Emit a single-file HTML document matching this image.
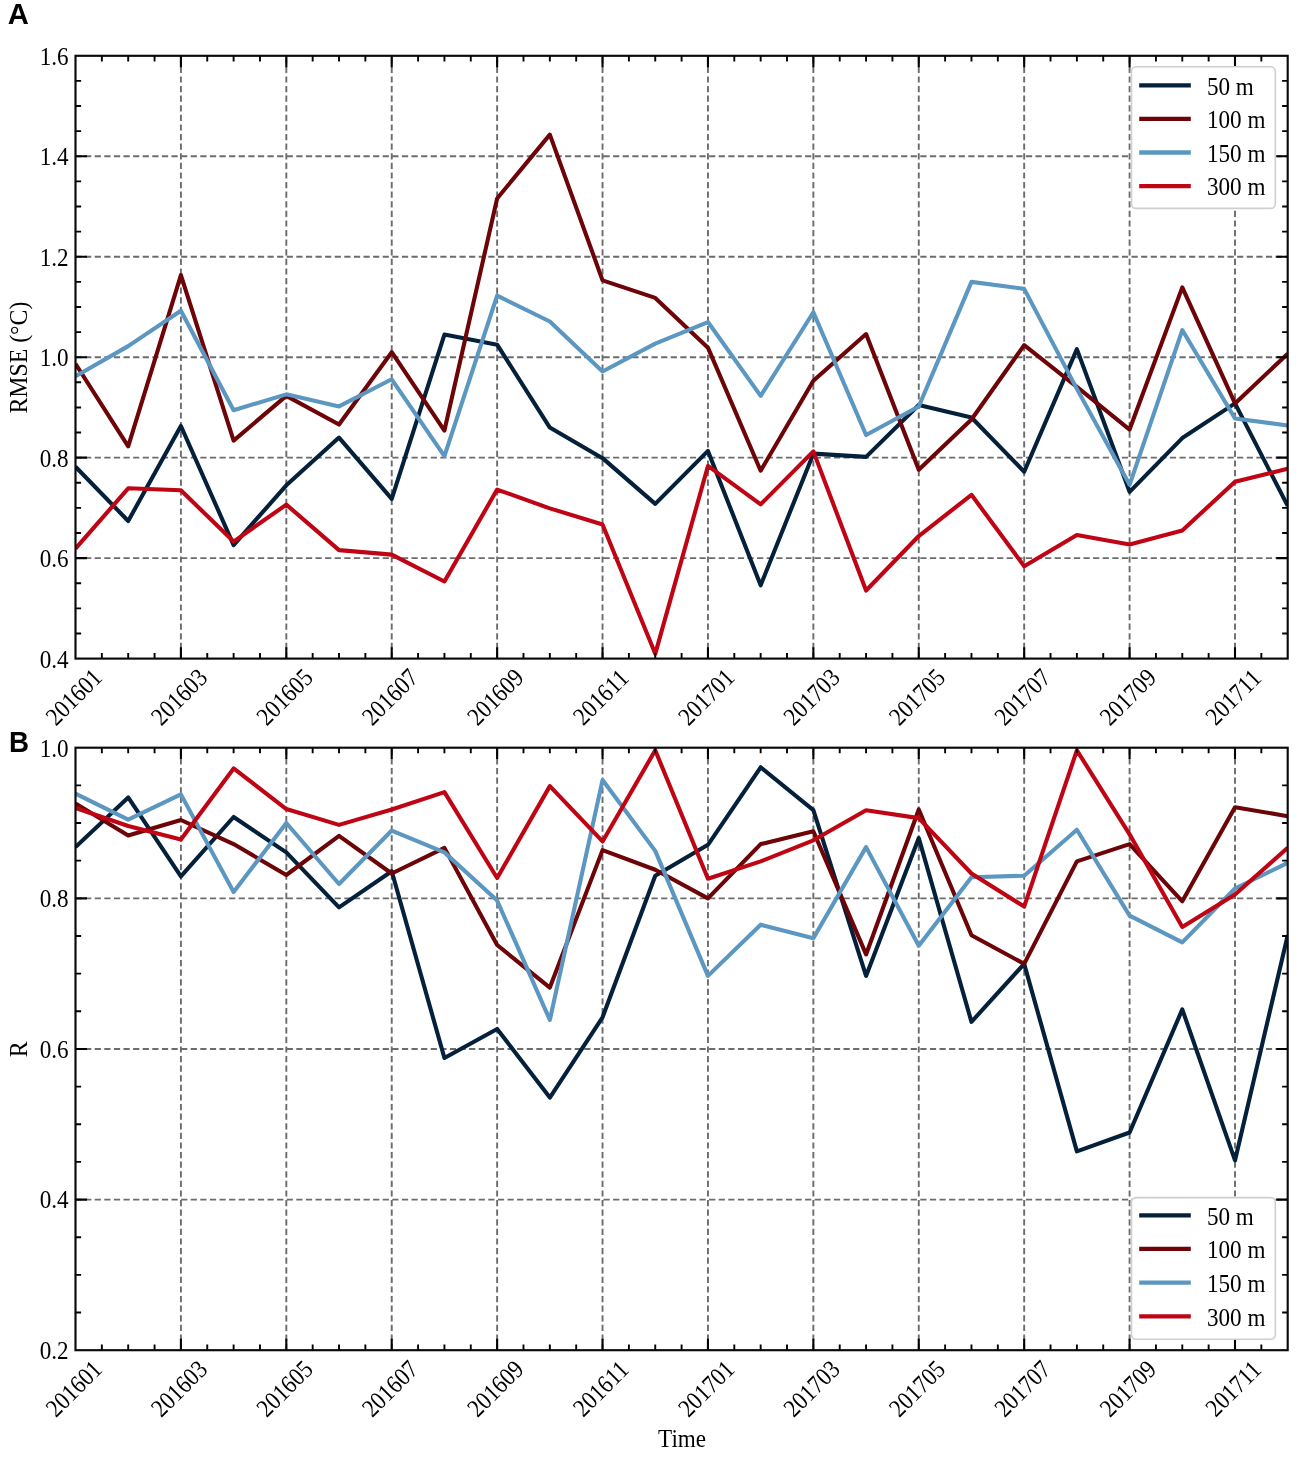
<!DOCTYPE html>
<html><head><meta charset="utf-8"><title>Figure</title>
<style>html,body{margin:0;padding:0;background:#fff}body{width:1299px;height:1457px;overflow:hidden;font-family:"Liberation Serif",serif}svg{display:block;filter:blur(0.75px)}</style>
</head><body>
<svg width="1299" height="1457" viewBox="0 0 1299 1457" font-family="'Liberation Serif', serif" font-size="23.5" fill="#000">
<path d="M180.91 658.60V55.80M286.32 658.60V55.80M391.73 658.60V55.80M497.13 658.60V55.80M602.54 658.60V55.80M707.95 658.60V55.80M813.36 658.60V55.80M918.77 658.60V55.80M1024.18 658.60V55.80M1129.59 658.60V55.80M1235.00 658.60V55.80M75.50 558.13H1287.70M75.50 457.67H1287.70M75.50 357.20H1287.70M75.50 256.73H1287.70M75.50 156.27H1287.70" stroke="#6c6c6c" stroke-width="1.9" stroke-dasharray="6.2 3.4" fill="none"/>
<clipPath id="clipA"><rect x="75.5" y="55.8" width="1212.2" height="602.8000000000001"/></clipPath>
<g clip-path="url(#clipA)" fill="none" stroke-width="4.1" stroke-linejoin="round" stroke-linecap="butt">
<polyline points="75.50,466.71 128.20,520.96 180.91,426.02 233.61,545.07 286.32,485.30 339.02,437.57 391.73,498.86 444.43,334.60 497.13,344.64 549.84,427.53 602.54,458.17 655.25,503.88 707.95,450.89 760.66,585.26 813.36,453.65 866.07,456.91 918.77,404.92 971.47,417.48 1024.18,471.73 1076.88,349.16 1129.59,491.83 1182.29,438.08 1235.00,403.41 1287.70,505.89" stroke="#04203a"/>
<polyline points="75.50,363.73 128.20,446.36 180.91,275.07 233.61,440.59 286.32,395.88 339.02,424.51 391.73,352.18 444.43,430.54 497.13,198.46 549.84,134.67 602.54,280.34 655.25,297.92 707.95,347.66 760.66,470.73 813.36,380.81 866.07,334.09 918.77,469.72 971.47,419.49 1024.18,345.14 1076.88,386.84 1129.59,429.54 1182.29,287.38 1235.00,403.41 1287.70,353.68" stroke="#6d0407"/>
<polyline points="75.50,376.29 128.20,346.15 180.91,310.73 233.61,410.20 286.32,394.37 339.02,406.43 391.73,379.30 444.43,456.16 497.13,295.66 549.84,321.53 602.54,371.52 655.25,343.64 707.95,322.04 760.66,395.88 813.36,312.24 866.07,435.06 918.77,406.43 971.47,281.85 1024.18,288.88 1076.88,388.85 1129.59,484.79 1182.29,330.07 1235.00,418.48 1287.70,425.52" stroke="#5b97c0"/>
<polyline points="75.50,548.59 128.20,488.31 180.91,490.32 233.61,541.56 286.32,504.63 339.02,550.10 391.73,554.62 444.43,581.49 497.13,489.56 549.84,508.40 602.54,524.48 655.25,653.83 707.95,465.96 760.66,504.38 813.36,451.39 866.07,590.53 918.77,536.03 971.47,494.84 1024.18,566.17 1076.88,535.03 1129.59,544.57 1182.29,530.50 1235.00,481.78 1287.70,468.72" stroke="#bf0414"/>
</g>
<path d="M180.91 658.60v-11.4M180.91 55.80v11.4M286.32 658.60v-11.4M286.32 55.80v11.4M391.73 658.60v-11.4M391.73 55.80v11.4M497.13 658.60v-11.4M497.13 55.80v11.4M602.54 658.60v-11.4M602.54 55.80v11.4M707.95 658.60v-11.4M707.95 55.80v11.4M813.36 658.60v-11.4M813.36 55.80v11.4M918.77 658.60v-11.4M918.77 55.80v11.4M1024.18 658.60v-11.4M1024.18 55.80v11.4M1129.59 658.60v-11.4M1129.59 55.80v11.4M1235.00 658.60v-11.4M1235.00 55.80v11.4M75.50 558.13h11.4M1287.70 558.13h-11.4M75.50 457.67h11.4M1287.70 457.67h-11.4M75.50 357.20h11.4M1287.70 357.20h-11.4M75.50 256.73h11.4M1287.70 256.73h-11.4M75.50 156.27h11.4M1287.70 156.27h-11.4" stroke="#000" stroke-width="2.1" fill="none"/>
<path d="M101.85 658.60v-5.6M101.85 55.80v5.6M128.20 658.60v-5.6M128.20 55.80v5.6M154.56 658.60v-5.6M154.56 55.80v5.6M207.26 658.60v-5.6M207.26 55.80v5.6M233.61 658.60v-5.6M233.61 55.80v5.6M259.97 658.60v-5.6M259.97 55.80v5.6M312.67 658.60v-5.6M312.67 55.80v5.6M339.02 658.60v-5.6M339.02 55.80v5.6M365.37 658.60v-5.6M365.37 55.80v5.6M418.08 658.60v-5.6M418.08 55.80v5.6M444.43 658.60v-5.6M444.43 55.80v5.6M470.78 658.60v-5.6M470.78 55.80v5.6M523.49 658.60v-5.6M523.49 55.80v5.6M549.84 658.60v-5.6M549.84 55.80v5.6M576.19 658.60v-5.6M576.19 55.80v5.6M628.90 658.60v-5.6M628.90 55.80v5.6M655.25 658.60v-5.6M655.25 55.80v5.6M681.60 658.60v-5.6M681.60 55.80v5.6M734.30 658.60v-5.6M734.30 55.80v5.6M760.66 658.60v-5.6M760.66 55.80v5.6M787.01 658.60v-5.6M787.01 55.80v5.6M839.71 658.60v-5.6M839.71 55.80v5.6M866.07 658.60v-5.6M866.07 55.80v5.6M892.42 658.60v-5.6M892.42 55.80v5.6M945.12 658.60v-5.6M945.12 55.80v5.6M971.47 658.60v-5.6M971.47 55.80v5.6M997.83 658.60v-5.6M997.83 55.80v5.6M1050.53 658.60v-5.6M1050.53 55.80v5.6M1076.88 658.60v-5.6M1076.88 55.80v5.6M1103.23 658.60v-5.6M1103.23 55.80v5.6M1155.94 658.60v-5.6M1155.94 55.80v5.6M1182.29 658.60v-5.6M1182.29 55.80v5.6M1208.64 658.60v-5.6M1208.64 55.80v5.6M1261.35 658.60v-5.6M1261.35 55.80v5.6M75.50 633.48h5.6M1287.70 633.48h-5.6M75.50 608.37h5.6M1287.70 608.37h-5.6M75.50 583.25h5.6M1287.70 583.25h-5.6M75.50 533.02h5.6M1287.70 533.02h-5.6M75.50 507.90h5.6M1287.70 507.90h-5.6M75.50 482.78h5.6M1287.70 482.78h-5.6M75.50 432.55h5.6M1287.70 432.55h-5.6M75.50 407.43h5.6M1287.70 407.43h-5.6M75.50 382.32h5.6M1287.70 382.32h-5.6M75.50 332.08h5.6M1287.70 332.08h-5.6M75.50 306.97h5.6M1287.70 306.97h-5.6M75.50 281.85h5.6M1287.70 281.85h-5.6M75.50 231.62h5.6M1287.70 231.62h-5.6M75.50 206.50h5.6M1287.70 206.50h-5.6M75.50 181.38h5.6M1287.70 181.38h-5.6M75.50 131.15h5.6M1287.70 131.15h-5.6M75.50 106.03h5.6M1287.70 106.03h-5.6M75.50 80.92h5.6M1287.70 80.92h-5.6" stroke="#000" stroke-width="1.9" fill="none"/>
<rect x="75.5" y="55.8" width="1212.20" height="602.80" fill="none" stroke="#0a0a0a" stroke-width="2.15"/>
<rect x="1131.5" y="66.8" width="143.8" height="141.6" rx="4.5" fill="#fff" stroke="#cfcfcf" stroke-width="1.6"/>
<path d="M1139.2 85.40H1190.8" stroke="#04203a" stroke-width="4.3"/>
<path d="M1139.2 118.95H1190.8" stroke="#6d0407" stroke-width="4.3"/>
<path d="M1139.2 152.50H1190.8" stroke="#5b97c0" stroke-width="4.3"/>
<path d="M1139.2 186.05H1190.8" stroke="#bf0414" stroke-width="4.3"/>
<path d="M180.91 1350.20V747.70M286.32 1350.20V747.70M391.73 1350.20V747.70M497.13 1350.20V747.70M602.54 1350.20V747.70M707.95 1350.20V747.70M813.36 1350.20V747.70M918.77 1350.20V747.70M1024.18 1350.20V747.70M1129.59 1350.20V747.70M1235.00 1350.20V747.70M75.50 1199.58H1287.70M75.50 1048.95H1287.70M75.50 898.33H1287.70" stroke="#6c6c6c" stroke-width="1.9" stroke-dasharray="6.2 3.4" fill="none"/>
<clipPath id="clipB"><rect x="75.5" y="747.7" width="1212.2" height="602.5"/></clipPath>
<g clip-path="url(#clipB)" fill="none" stroke-width="4.1" stroke-linejoin="round" stroke-linecap="butt">
<polyline points="75.50,847.11 128.20,797.41 180.91,876.48 233.61,816.99 286.32,852.38 339.02,907.36 391.73,871.21 444.43,1057.99 497.13,1028.99 549.84,1097.53 602.54,1017.32 655.25,875.73 707.95,844.85 760.66,767.28 813.36,810.21 866.07,975.90 918.77,838.08 971.47,1021.84 1024.18,963.85 1076.88,1151.38 1129.59,1132.55 1182.29,1009.41 1235.00,1160.41 1287.70,935.23" stroke="#04203a"/>
<polyline points="75.50,803.43 128.20,835.44 180.91,820.00 233.61,844.10 286.32,874.98 339.02,835.82 391.73,873.47 444.43,847.87 497.13,945.02 549.84,987.57 602.54,850.13 655.25,869.71 707.95,898.33 760.66,844.10 813.36,831.30 866.07,954.43 918.77,809.46 971.47,935.23 1024.18,963.85 1076.88,861.42 1129.59,844.10 1182.29,901.34 1235.00,807.20 1287.70,816.23" stroke="#6d0407"/>
<polyline points="75.50,793.64 128.20,819.62 180.91,794.39 233.61,891.92 286.32,823.01 339.02,884.02 391.73,830.54 444.43,852.38 497.13,900.58 549.84,1019.95 602.54,780.08 655.25,850.88 707.95,975.90 760.66,924.68 813.36,938.24 866.07,847.11 918.77,945.77 971.47,877.24 1024.18,875.73 1076.88,829.79 1129.59,915.65 1182.29,942.38 1235.00,888.53 1287.70,862.93" stroke="#5b97c0"/>
<polyline points="75.50,807.95 128.20,826.03 180.91,839.58 233.61,768.41 286.32,809.08 339.02,824.90 391.73,809.46 444.43,792.13 497.13,877.99 549.84,786.11 602.54,841.46 655.25,750.34 707.95,878.74 760.66,861.42 813.36,840.33 866.07,810.21 918.77,818.12 971.47,873.47 1024.18,906.61 1076.88,750.34 1129.59,834.31 1182.29,926.94 1235.00,894.56 1287.70,847.87" stroke="#bf0414"/>
</g>
<path d="M180.91 1350.20v-11.4M180.91 747.70v11.4M286.32 1350.20v-11.4M286.32 747.70v11.4M391.73 1350.20v-11.4M391.73 747.70v11.4M497.13 1350.20v-11.4M497.13 747.70v11.4M602.54 1350.20v-11.4M602.54 747.70v11.4M707.95 1350.20v-11.4M707.95 747.70v11.4M813.36 1350.20v-11.4M813.36 747.70v11.4M918.77 1350.20v-11.4M918.77 747.70v11.4M1024.18 1350.20v-11.4M1024.18 747.70v11.4M1129.59 1350.20v-11.4M1129.59 747.70v11.4M1235.00 1350.20v-11.4M1235.00 747.70v11.4M75.50 1199.58h11.4M1287.70 1199.58h-11.4M75.50 1048.95h11.4M1287.70 1048.95h-11.4M75.50 898.33h11.4M1287.70 898.33h-11.4" stroke="#000" stroke-width="2.1" fill="none"/>
<path d="M101.85 1350.20v-5.6M101.85 747.70v5.6M128.20 1350.20v-5.6M128.20 747.70v5.6M154.56 1350.20v-5.6M154.56 747.70v5.6M207.26 1350.20v-5.6M207.26 747.70v5.6M233.61 1350.20v-5.6M233.61 747.70v5.6M259.97 1350.20v-5.6M259.97 747.70v5.6M312.67 1350.20v-5.6M312.67 747.70v5.6M339.02 1350.20v-5.6M339.02 747.70v5.6M365.37 1350.20v-5.6M365.37 747.70v5.6M418.08 1350.20v-5.6M418.08 747.70v5.6M444.43 1350.20v-5.6M444.43 747.70v5.6M470.78 1350.20v-5.6M470.78 747.70v5.6M523.49 1350.20v-5.6M523.49 747.70v5.6M549.84 1350.20v-5.6M549.84 747.70v5.6M576.19 1350.20v-5.6M576.19 747.70v5.6M628.90 1350.20v-5.6M628.90 747.70v5.6M655.25 1350.20v-5.6M655.25 747.70v5.6M681.60 1350.20v-5.6M681.60 747.70v5.6M734.30 1350.20v-5.6M734.30 747.70v5.6M760.66 1350.20v-5.6M760.66 747.70v5.6M787.01 1350.20v-5.6M787.01 747.70v5.6M839.71 1350.20v-5.6M839.71 747.70v5.6M866.07 1350.20v-5.6M866.07 747.70v5.6M892.42 1350.20v-5.6M892.42 747.70v5.6M945.12 1350.20v-5.6M945.12 747.70v5.6M971.47 1350.20v-5.6M971.47 747.70v5.6M997.83 1350.20v-5.6M997.83 747.70v5.6M1050.53 1350.20v-5.6M1050.53 747.70v5.6M1076.88 1350.20v-5.6M1076.88 747.70v5.6M1103.23 1350.20v-5.6M1103.23 747.70v5.6M1155.94 1350.20v-5.6M1155.94 747.70v5.6M1182.29 1350.20v-5.6M1182.29 747.70v5.6M1208.64 1350.20v-5.6M1208.64 747.70v5.6M1261.35 1350.20v-5.6M1261.35 747.70v5.6M75.50 1312.54h5.6M1287.70 1312.54h-5.6M75.50 1274.89h5.6M1287.70 1274.89h-5.6M75.50 1237.23h5.6M1287.70 1237.23h-5.6M75.50 1161.92h5.6M1287.70 1161.92h-5.6M75.50 1124.26h5.6M1287.70 1124.26h-5.6M75.50 1086.61h5.6M1287.70 1086.61h-5.6M75.50 1011.29h5.6M1287.70 1011.29h-5.6M75.50 973.64h5.6M1287.70 973.64h-5.6M75.50 935.98h5.6M1287.70 935.98h-5.6M75.50 860.67h5.6M1287.70 860.67h-5.6M75.50 823.01h5.6M1287.70 823.01h-5.6M75.50 785.36h5.6M1287.70 785.36h-5.6" stroke="#000" stroke-width="1.9" fill="none"/>
<rect x="75.5" y="747.7" width="1212.20" height="602.50" fill="none" stroke="#0a0a0a" stroke-width="2.15"/>
<rect x="1131.5" y="1197.6" width="143.8" height="141.6" rx="4.5" fill="#fff" stroke="#cfcfcf" stroke-width="1.6"/>
<path d="M1139.2 1215.30H1190.8" stroke="#04203a" stroke-width="4.3"/>
<path d="M1139.2 1248.97H1190.8" stroke="#6d0407" stroke-width="4.3"/>
<path d="M1139.2 1282.64H1190.8" stroke="#5b97c0" stroke-width="4.3"/>
<path d="M1139.2 1316.31H1190.8" stroke="#bf0414" stroke-width="4.3"/>
<g style="filter:grayscale(1)" >
<text transform="translate(68.70 667.50) scale(0.985,1.09)" text-anchor="end">0.4</text>
<text transform="translate(68.70 567.03) scale(0.985,1.09)" text-anchor="end">0.6</text>
<text transform="translate(68.70 466.57) scale(0.985,1.09)" text-anchor="end">0.8</text>
<text transform="translate(68.70 366.10) scale(0.985,1.09)" text-anchor="end">1.0</text>
<text transform="translate(68.70 265.63) scale(0.985,1.09)" text-anchor="end">1.2</text>
<text transform="translate(68.70 165.17) scale(0.985,1.09)" text-anchor="end">1.4</text>
<text transform="translate(68.70 64.70) scale(0.985,1.09)" text-anchor="end">1.6</text>
<text transform="translate(73.70 696.90) rotate(-45) scale(0.955,1.08)" text-anchor="middle" y="7.9">201601</text>
<text transform="translate(179.11 696.90) rotate(-45) scale(0.955,1.08)" text-anchor="middle" y="7.9">201603</text>
<text transform="translate(284.52 696.90) rotate(-45) scale(0.955,1.08)" text-anchor="middle" y="7.9">201605</text>
<text transform="translate(389.93 696.90) rotate(-45) scale(0.955,1.08)" text-anchor="middle" y="7.9">201607</text>
<text transform="translate(495.33 696.90) rotate(-45) scale(0.955,1.08)" text-anchor="middle" y="7.9">201609</text>
<text transform="translate(600.74 696.90) rotate(-45) scale(0.955,1.08)" text-anchor="middle" y="7.9">201611</text>
<text transform="translate(706.15 696.90) rotate(-45) scale(0.955,1.08)" text-anchor="middle" y="7.9">201701</text>
<text transform="translate(811.56 696.90) rotate(-45) scale(0.955,1.08)" text-anchor="middle" y="7.9">201703</text>
<text transform="translate(916.97 696.90) rotate(-45) scale(0.955,1.08)" text-anchor="middle" y="7.9">201705</text>
<text transform="translate(1022.38 696.90) rotate(-45) scale(0.955,1.08)" text-anchor="middle" y="7.9">201707</text>
<text transform="translate(1127.79 696.90) rotate(-45) scale(0.955,1.08)" text-anchor="middle" y="7.9">201709</text>
<text transform="translate(1233.20 696.90) rotate(-45) scale(0.955,1.08)" text-anchor="middle" y="7.9">201711</text>
<text transform="translate(27.0 357.60) rotate(-90) scale(1,1.03)" text-anchor="middle" font-size="23.8">RMSE (°C)</text>
<text transform="translate(1206.9 94.80) scale(0.985,1.09)">50 m</text>
<text transform="translate(1206.9 128.35) scale(0.985,1.09)">100 m</text>
<text transform="translate(1206.9 161.90) scale(0.985,1.09)">150 m</text>
<text transform="translate(1206.9 195.45) scale(0.985,1.09)">300 m</text>
<text transform="translate(68.70 1359.10) scale(0.985,1.09)" text-anchor="end">0.2</text>
<text transform="translate(68.70 1208.48) scale(0.985,1.09)" text-anchor="end">0.4</text>
<text transform="translate(68.70 1057.85) scale(0.985,1.09)" text-anchor="end">0.6</text>
<text transform="translate(68.70 907.23) scale(0.985,1.09)" text-anchor="end">0.8</text>
<text transform="translate(68.70 756.60) scale(0.985,1.09)" text-anchor="end">1.0</text>
<text transform="translate(73.70 1388.50) rotate(-45) scale(0.955,1.08)" text-anchor="middle" y="7.9">201601</text>
<text transform="translate(179.11 1388.50) rotate(-45) scale(0.955,1.08)" text-anchor="middle" y="7.9">201603</text>
<text transform="translate(284.52 1388.50) rotate(-45) scale(0.955,1.08)" text-anchor="middle" y="7.9">201605</text>
<text transform="translate(389.93 1388.50) rotate(-45) scale(0.955,1.08)" text-anchor="middle" y="7.9">201607</text>
<text transform="translate(495.33 1388.50) rotate(-45) scale(0.955,1.08)" text-anchor="middle" y="7.9">201609</text>
<text transform="translate(600.74 1388.50) rotate(-45) scale(0.955,1.08)" text-anchor="middle" y="7.9">201611</text>
<text transform="translate(706.15 1388.50) rotate(-45) scale(0.955,1.08)" text-anchor="middle" y="7.9">201701</text>
<text transform="translate(811.56 1388.50) rotate(-45) scale(0.955,1.08)" text-anchor="middle" y="7.9">201703</text>
<text transform="translate(916.97 1388.50) rotate(-45) scale(0.955,1.08)" text-anchor="middle" y="7.9">201705</text>
<text transform="translate(1022.38 1388.50) rotate(-45) scale(0.955,1.08)" text-anchor="middle" y="7.9">201707</text>
<text transform="translate(1127.79 1388.50) rotate(-45) scale(0.955,1.08)" text-anchor="middle" y="7.9">201709</text>
<text transform="translate(1233.20 1388.50) rotate(-45) scale(0.955,1.08)" text-anchor="middle" y="7.9">201711</text>
<text transform="translate(27.0 1049.35) rotate(-90) scale(1,1.03)" text-anchor="middle" font-size="23.8">R</text>
<text transform="translate(1206.9 1224.70) scale(0.985,1.09)">50 m</text>
<text transform="translate(1206.9 1258.37) scale(0.985,1.09)">100 m</text>
<text transform="translate(1206.9 1292.04) scale(0.985,1.09)">150 m</text>
<text transform="translate(1206.9 1325.71) scale(0.985,1.09)">300 m</text>
<text transform="translate(682.1 1446.8) scale(0.985,1.09)" text-anchor="middle">Time</text>
<text transform="translate(7.8 23.6) scale(1.0,1.035)" font-family="'Liberation Sans', sans-serif" font-weight="bold" font-size="29.2">A</text>
<text transform="translate(9.0 752.3) scale(0.97,1)" font-family="'Liberation Sans', sans-serif" font-weight="bold" font-size="28.6">B</text>
</g>
</svg>
</body></html>
